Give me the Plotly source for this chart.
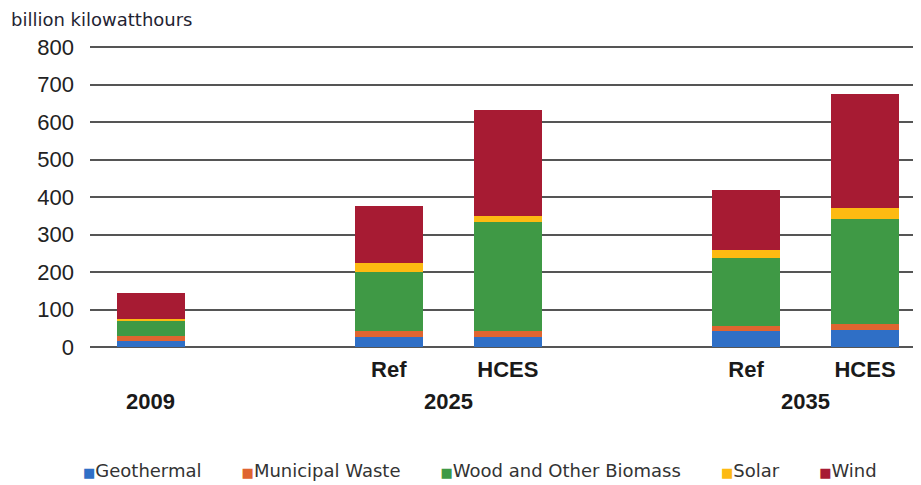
import plotly.graph_objects as go

# Data (billion kilowatthours)
periods = ["2009", "2025", "2025", "2035", "2035"]
scenarios = ["", "Ref", "HCES", "Ref", "HCES"]
slots = [0, 2, 3, 5, 6]  # slot 1 and 4 are empty spacers between groups

geothermal = [18, 27, 27, 43, 46]
municipal_waste = [13, 16, 16, 15, 16]
wood_biomass = [40, 157, 292, 180, 280]
solar = [4, 24, 16, 22, 29]
wind = [70, 154, 283, 160, 305]

series = [
    ("Geothermal", geothermal, "#2F6FC6"),
    ("Municipal Waste", municipal_waste, "#DF6530"),
    ("Wood and Other Biomass", wood_biomass, "#3F9945"),
    ("Solar", solar, "#FDBA12"),
    ("Wind", wind, "#A71B33"),
]

y_ticks = [0, 100, 200, 300, 400, 500, 600, 700, 800]

fig = go.Figure()
for name, vals, col in series:
    fig.add_trace(go.Bar(
        name=name, x=slots, y=vals, width=0.57,
        marker=dict(color=col, line=dict(width=0)),
    ))

# group (year) labels below the scenario labels
for p in dict.fromkeys(periods):
    xs = [s for s, q in zip(slots, periods) if q == p]
    fig.add_annotation(
        x=sum(xs) / len(xs), xref="x", y=-0.175, yref="paper",
        text="<b>" + p + "</b>", showarrow=False,
        font=dict(size=22, color="#1a1a1a"), yanchor="middle",
    )

# y axis unit title
fig.add_annotation(
    text="billion kilowatthours", xref="paper", yref="paper",
    x=-0.0963, xanchor="left", y=1.122, yanchor="top", borderpad=0,
    showarrow=False, font=dict(size=18, family="DejaVu Sans", color="#1f2433"),
)

# legend row (small coloured squares + names)
gap = "&nbsp;" * 7
legend_txt = gap.join(
    "<span style='color:%s;font-size:13px'>■</span>%s" % (col, name)
    for name, vals, col in series
)
fig.add_annotation(
    text=legend_txt, xref="paper", yref="paper",
    x=0.469, xanchor="center", y=-0.403, yanchor="middle",
    showarrow=False, font=dict(size=18, family="DejaVu Sans", color="#333333"),
)

fig.update_layout(
    barmode="stack",
    width=913, height=477,
    margin=dict(l=82, r=0, t=37, b=137),
    plot_bgcolor="white", paper_bgcolor="white",
    font=dict(family="Arial, Liberation Sans, sans-serif", color="#222222"),
    showlegend=False,
)

fig.update_xaxes(
    range=[-0.51, 6.47], tickvals=slots[1:],
    ticktext=["<b>" + s + "</b>" for s in scenarios[1:]],
    tickfont=dict(size=22, color="#1a1a1a"), ticklabelstandoff=6,
    showgrid=False, zeroline=False, showline=False,
)
fig.update_yaxes(
    range=[-2, 806], tickvals=y_ticks, tickfont=dict(size=22, color="#222222"),
    ticklabelstandoff=15, showgrid=True, gridcolor="#555555", gridwidth=1.6,
    zeroline=True, zerolinecolor="#555555", zerolinewidth=1.6, showline=False,
)

fig.write_html("out.html")
